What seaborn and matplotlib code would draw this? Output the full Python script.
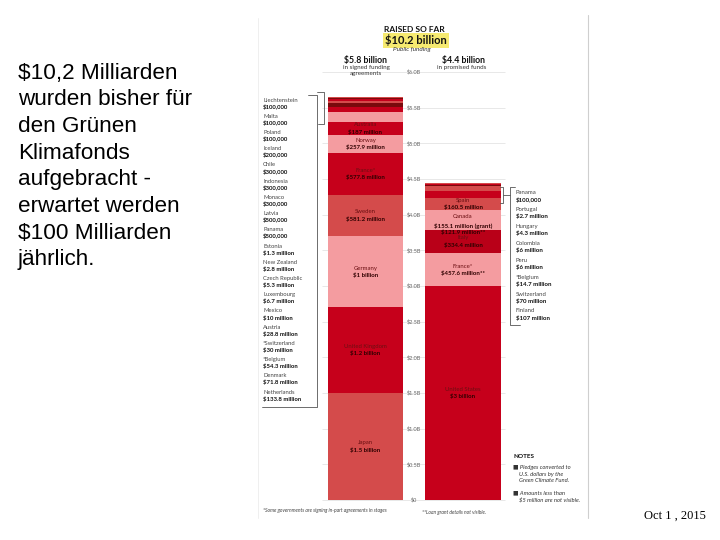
import numpy as np
import pandas as pd
import matplotlib
matplotlib.use("Agg")
import matplotlib.pyplot as plt
import seaborn as sns

# ---------------- data ----------------
# signed funding agreements, bottom -> top (billions USD)
signed_countries = ["Japan", "United Kingdom", "Germany", "Sweden", "France", "Norway",
                    "Australia", "Netherlands", "Denmark", "Belgium", "Switzerland", "Austria",
                    "Mexico", "Luxembourg", "Czech Republic", "New Zealand", "Estonia", "Panama",
                    "Latvia", "Monaco", "Indonesia", "Chile", "Iceland", "Poland", "Malta",
                    "Liechtenstein"]
signed_values = [1.5, 1.2, 1.0, 0.5812, 0.5778, 0.2579, 0.187, 0.1338, 0.0718, 0.0543, 0.030,
                 0.0288, 0.010, 0.0067, 0.0053, 0.0028, 0.0013, 0.0005, 0.0005, 0.0003, 0.0003,
                 0.0003, 0.0002, 0.0001, 0.0001, 0.0001]
signed_names = ["Japan", "United Kingdom", "Germany", "Sweden", "France*", "Norway", "Australia",
                "Netherlands", "Denmark", "*Belgium", "*Switzerland", "Austria", "Mexico",
                "Luxembourg", "Czech Republic", "New Zealand", "Estonia", "Panama", "Latvia",
                "Monaco", "Indonesia", "Chile", "Iceland", "Poland", "Malta", "Liechtenstein"]
signed_amounts = ["$1.5 billion", "$1.2 billion", "$1 billion", "$581.2 million", "$577.8 million",
                  "$257.9 million", "$187 million", "$133.8 million", "$71.8 million",
                  "$54.3 million", "$30 million", "$28.8 million", "$10 million", "$6.7 million",
                  "$5.3 million", "$2.8 million", "$1.3 million", "$500,000", "$500,000",
                  "$300,000", "$300,000", "$300,000", "$200,000", "$100,000", "$100,000",
                  "$100,000"]

# promised funds, bottom -> top (billions USD)
promised_countries = ["United States", "France", "Italy", "Canada", "Spain", "Finland",
                      "Switzerland", "Belgium", "Peru", "Colombia", "Hungary", "Portugal", "Panama"]
promised_values = [3.0, 0.4576, 0.3344, 0.277, 0.1605, 0.107, 0.070, 0.0147, 0.006, 0.006,
                   0.0043, 0.0027, 0.0001]
promised_names = ["United States", "France*", "Italy", "Canada", "Spain", "Finland", "Switzerland",
                  "*Belgium", "Peru", "Colombia", "Hungary", "Portugal", "Panama"]
promised_amounts = ["$3 billion", "$457.6 million**", "$334.4 million",
                    "$155.1 million (grant)\n$121.9 million**", "$160.5 million", "$107 million",
                    "$70 million", "$14.7 million", "$6 million", "$6 million", "$4.3 million",
                    "$2.7 million", "$100,000"]

tick_values = [0, 0.5, 1.0, 1.5, 2.0, 2.5, 3.0, 3.5, 4.0, 4.5, 5.0, 5.5, 6.0]
tick_labels = ["$0", "$0.5B", "$1.0B", "$1.5B", "$2.0B", "$2.5B", "$3.0B", "$3.5B", "$4.0B",
               "$4.5B", "$5.0B", "$5.5B", "$6.0B"]

slide_lines = ["$10,2 Milliarden", "wurden bisher für", "den Grünen", "Klimafonds",
               "aufgebracht -", "erwartet werden", "$100 Milliarden", "jährlich."]

# ---------------- styles ----------------
RED = "#c6001b"
MED = "#d44b4b"
PINK = "#f49ca0"
DARK = "#7a0a0c"
signed_colors = [MED, RED, PINK, MED, RED, PINK, RED, PINK, RED, DARK, MED, RED,
                 DARK, RED, MED, DARK, RED, MED, DARK, RED, MED, DARK, RED, MED, DARK, RED]
promised_colors = [RED, PINK, "#b90018", PINK, MED, RED, MED, DARK, RED, DARK, MED, RED, DARK]

sns.set_theme(style="white")
plt.rcParams["font.family"] = ["Lato", "DejaVu Sans"]

df = pd.DataFrame({
    "column": [0] * len(signed_countries) + [1] * len(promised_countries),
    "segment": [f"S:{c}" for c in signed_countries] + [f"P:{c}" for c in promised_countries],
    "value": signed_values + promised_values,
})
palette = dict(zip(df["segment"], signed_colors + promised_colors))
hue_order = list(df["segment"])[::-1]  # first level is drawn on top of the stack

fig = plt.figure(figsize=(7.2, 5.4), dpi=100)
fig.patch.set_facecolor("white")

ax = fig.add_axes([255 / 720, (540 - 518) / 540, 333 / 720, 503 / 540])
ax.hlines(tick_values, -0.45, 1.43, color="#e4e4e4", lw=0.6, zorder=0)
sns.histplot(data=df, x="column", weights="value", hue="segment", hue_order=hue_order,
             palette=palette, multiple="stack", discrete=True, shrink=0.77,
             linewidth=0, alpha=1, legend=False, ax=ax, zorder=2)
ax.set_xlim(-1.1333, 2.282)
ax.set_ylim(-0.2523, 6.799)
ax.axis("off")

for v, lab in zip(tick_values, tick_labels):
    ax.text(0.5, v, lab, ha="center", va="center", fontsize=4, color="#666666", zorder=3)

NAME_C = "#6b0f12"
AMT_C = "#2e0000"


def label_stack(xpos, values, names, amounts, n):
    bottoms = np.concatenate([[0], np.cumsum(values)[:-1]])
    for b, v, nm, am in list(zip(bottoms, values, names, amounts))[:n]:
        mid = b + v / 2
        ax.annotate(nm, (xpos, mid), xytext=(0, 2.6), textcoords="offset points",
                    ha="center", va="center", fontsize=4.3, color=NAME_C, zorder=4)
        ax.annotate(am, (xpos, mid), xytext=(0, -2.6), textcoords="offset points",
                    ha="center", va="top" if "\n" in am else "center",
                    fontsize=4.4, fontweight="bold", color=AMT_C, zorder=4,
                    linespacing=1.1)


label_stack(0, signed_values, signed_names, signed_amounts, 7)
label_stack(1, promised_values, promised_names, promised_amounts, 5)

# ---------------- overlay in pixel coordinates ----------------
ov = fig.add_axes([0, 0, 1, 1], zorder=5)
ov.set_xlim(0, 720)
ov.set_ylim(540, 0)
ov.axis("off")
ov.patch.set_alpha(0)

# slide text
for i, line in enumerate(slide_lines):
    ov.text(18, 78.5 + i * 26.7, line, fontsize=16.2, family="Liberation Sans",
            color="black", va="baseline", ha="left")
ov.text(675, 516, "Oct 1 , 2015", fontsize=9, family="Liberation Serif",
        ha="center", va="center", color="black")

# infographic borders
ov.plot([588, 588], [15, 518], color="#cfcfcf", lw=0.8)
ov.plot([258, 258], [18, 518], color="#ececec", lw=0.6)

# header
ov.text(414, 30, "RAISED SO FAR", fontsize=6, fontweight="bold", ha="center", va="center",
        color="#111111")
ov.text(416, 40.5, "$10.2 billion", fontsize=8, fontweight="bold", ha="center", va="center",
        color="#111111", bbox=dict(boxstyle="square,pad=0.15", fc="#f6ea70", ec="none"))
ov.text(412, 49.5, "Public funding", fontsize=4.6, style="italic", ha="center", va="center",
        color="#333333")
ov.text(366, 60, "$5.8 billion", fontsize=6.3, fontweight="bold", ha="center", va="center",
        color="#111111")
ov.text(366, 67.5, "in signed funding", fontsize=4.5, ha="center", va="center", color="#333333")
ov.text(366, 73.5, "agreements", fontsize=4.5, ha="center", va="center", color="#333333")
ov.text(463, 60, "$4.4 billion", fontsize=6.3, fontweight="bold", ha="center", va="center",
        color="#111111")
ov.text(462, 67.5, "in promised funds", fontsize=4.5, ha="center", va="center", color="#333333")

# left box of small signed contributors (top -> bottom)
left_small = list(zip(signed_names, signed_amounts))[7:][::-1]
ys = np.linspace(100, 392, len(left_small))
for y, (nm, am) in zip(ys, left_small):
    ov.text(263, y, nm, fontsize=4.2, ha="left", va="center", color="#444444")
    ov.text(263, y + 7, am, fontsize=4.3, fontweight="bold", ha="left", va="center",
            color="#111111")
LC = "#555555"
ov.plot([308, 317, 317, 262], [95, 95, 407, 407], color=LC, lw=0.6)
ov.plot([317, 324, 324, 318], [92, 92, 124, 124], color=LC, lw=0.6)

# right box of small promised contributors (top -> bottom)
right_small = list(zip(promised_names, promised_amounts))[5:][::-1]
ys = np.linspace(193, 311, len(right_small))
for y, (nm, am) in zip(ys, right_small):
    ov.text(516, y, nm, fontsize=4.3, ha="left", va="center", color="#444444")
    ov.text(516, y + 7, am, fontsize=4.4, fontweight="bold", ha="left", va="center",
            color="#111111")
ov.plot([500, 503, 503, 500], [187, 187, 203, 203], color=LC, lw=0.6)
ov.plot([503, 510], [195, 195], color=LC, lw=0.6)
ov.plot([515, 510, 510, 520], [187, 187, 325, 325], color=LC, lw=0.6)

# notes
ov.text(513, 457, "NOTES", fontsize=4.6, fontweight="bold", ha="left", va="center",
        color="#111111")
notes = [("■ Pledges converted to", 467), ("U.S. dollars by the", 474),
         ("Green Climate Fund.", 481), ("■ Amounts less than", 493),
         ("$5 million are not visible.", 500)]
for txt, y in notes:
    x = 513 if txt.startswith("■") else 519
    ov.text(x, y, txt, fontsize=4.2, style="italic", ha="left", va="center", color="#333333")

# footnotes
ov.text(263, 510, "*Some governments are signing in-part agreements in stages",
        fontsize=3.6, style="italic", ha="left", va="center", color="#444444")
ov.text(422, 512, "**Loan grant details not visible.", fontsize=3.6, style="italic",
        ha="left", va="center", color="#444444")

fig.savefig("out.png", dpi=100, facecolor="white")
